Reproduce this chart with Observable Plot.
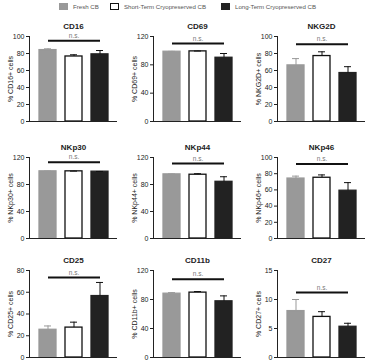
<!DOCTYPE html>
<html><head><meta charset="utf-8">
<script src="https://cdn.jsdelivr.net/npm/d3@7"></script>
<script src="https://cdn.jsdelivr.net/npm/@observablehq/plot@0.6"></script>
<style>
body{margin:0;background:#fff;font-family:"Liberation Sans",Arial,sans-serif;}
#root{position:relative;width:367px;height:361px;overflow:hidden;}
.panel{position:absolute;}
.legend{position:absolute;top:0;left:0;width:367px;height:14px;font-size:6.1px;color:#555;}
.sw{position:absolute;top:3px;width:9px;height:7px;box-sizing:border-box;}
.lt{position:absolute;top:2px;line-height:9px;white-space:nowrap;}
</style></head><body><div id="root"></div>
<script>
const series = ["Fresh CB", "Short-Term Cryopreserved CB", "Long-Term Cryopreserved CB"];
const seriesFill = ["#999999", "#ffffff", "#222222"];
const seriesStroke = ["#999999", "#111111", "#222222"];
const markers = ["CD16", "CD69", "NKG2D", "NKp30", "NKp44", "NKp46", "CD25", "CD11b", "CD27"];
const yLabels = ["% CD16+ cells", "% CD69+ cells", "% NKG2D+ cells", "% NKp30+ cells", "% NKp44+ cells", "% NKp46+ cells", "% CD25+ cells", "% CD11b+ cells", "% CD27+ cells"];
const fresh     = [84, 98.5, 66, 99.5, 95, 74, 25.5, 88, 8];
const freshErr  = [1.5, 0.5, 8, 0.3, 0.6, 3, 3.5, 1.5, 2];
const shortTerm = [76.5, 99, 77, 99.5, 94.5, 75, 27.5, 89.5, 7];
const shortErr  = [2, 0.5, 5, 0.3, 1.5, 3.5, 5, 1.5, 0.9];
const longTerm  = [79, 90, 57, 99, 84, 59, 56.5, 77.5, 5.3];
const longErr   = [4.5, 6, 7.5, 0.3, 7.5, 10, 12.5, 7.5, 0.6];
const yMax      = [100, 120, 100, 120, 120, 100, 80, 120, 15];
const yStep     = [20, 40, 20, 40, 40, 20, 20, 40, 5];
const sigY      = [95, 110, 91, 113, 111, 92, 73.5, 108, 11.2];
const sigLabel  = "n.s.";

const root = document.getElementById("root");

// legend
const legend = document.createElement("div");
legend.className = "legend";
const swX = [59, 110, 221];
series.forEach((s, j) => {
  const sw = document.createElement("div");
  sw.className = "sw";
  sw.style.left = swX[j] + "px";
  sw.style.background = seriesFill[j];
  sw.style.border = j === 1 ? "1.5px solid #111" : "none";
  legend.appendChild(sw);
  const t = document.createElement("div");
  t.className = "lt";
  t.style.left = (swX[j] + 14) + "px";
  t.textContent = s;
  legend.appendChild(t);
});
root.appendChild(legend);

const colLeft = [0, 124, 248];
const colWidth = [124, 124, 119];
const rowTop = [17, 137, 250];
const rowMarginTop = [19, 20, 20];
const rowFrame = [85, 81, 87];
const marginLeft = 29, frameW = 88, marginBottom = 4;
const allVals = [fresh, shortTerm, longTerm];
const allErrs = [freshErr, shortErr, longErr];

markers.forEach((m, i) => {
  const row = Math.floor(i / 3), col = i % 3;
  const width = colWidth[col];
  const height = rowMarginTop[row] + rowFrame[row] + marginBottom;
  const data = series.map((s, j) => ({
    group: s, value: allVals[j][i], err: allErrs[j][i],
    fill: seriesFill[j], stroke: seriesStroke[j], estroke: j === 0 ? "#999999" : "#111111"
  }));
  const chart = Plot.plot({
    width, height,
    marginLeft, marginRight: width - marginLeft - frameW,
    marginTop: rowMarginTop[row], marginBottom,
    style: {fontSize: "7px", fontFamily: "'Liberation Sans', Arial, sans-serif", color: "#222", background: "transparent"},
    color: {type: "identity"},
    x: {domain: series, axis: null, paddingInner: 0.36, paddingOuter: 0.36},
    y: {domain: [0, yMax[i]], ticks: d3.range(0, yMax[i] + 1e-9, yStep[i]), tickSize: 3, tickPadding: 2,
        line: true, label: yLabels[i], labelAnchor: "center", labelArrow: "none", labelOffset: 21, tickFormat: d => d},
    marks: [
      Plot.barY(data, {x: "group", y: "value", fill: "fill", stroke: "stroke", strokeWidth: 1.3}),
      Plot.ruleX(data, {x: "group", y1: "value", y2: d => d.value + d.err, stroke: "estroke", strokeWidth: 1}),
      Plot.tickY(data, {x: "group", y: d => d.value + d.err, stroke: "estroke", strokeWidth: 1, insetLeft: 5, insetRight: 5}),
      Plot.ruleY([0], {stroke: "#222", strokeWidth: 1}),
      Plot.link([sigY[i]], {x1: () => series[0], x2: () => series[2], y1: d => d, y2: d => d, stroke: "#111", strokeWidth: 2}),
      Plot.text([sigLabel], {x: () => series[1], y: () => sigY[i], dy: -5, fontSize: 6.5, fill: "#777"}),
      Plot.text([m], {frameAnchor: "top", dy: -13, fontWeight: "bold", fontSize: 8, fill: "#222"})
    ]
  });
  const wrap = document.createElement("div");
  wrap.className = "panel";
  wrap.style.left = colLeft[col] + "px";
  wrap.style.top = rowTop[row] + "px";
  wrap.appendChild(chart);
  root.appendChild(wrap);
});
</script>
</body></html>
